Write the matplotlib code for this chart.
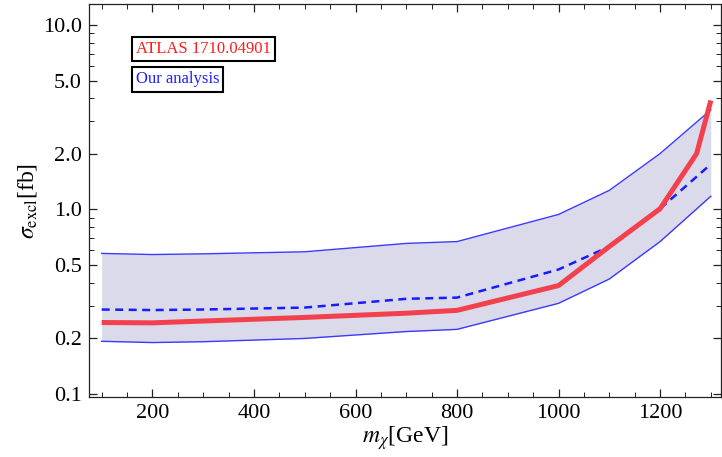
import matplotlib
matplotlib.use("Agg")
import matplotlib.pyplot as plt
from matplotlib.ticker import FixedLocator, LogLocator, MultipleLocator, NullFormatter

plt.rcParams['font.family'] = ['Liberation Serif', 'DejaVu Serif']
plt.rcParams['mathtext.fontset'] = 'stix'

# band (our analysis): masses, lower / expected / upper limit
mass = [100, 200, 300, 500, 700, 800, 1000, 1100, 1200, 1300]
band_low = [0.193, 0.190, 0.192, 0.200, 0.218, 0.224, 0.310, 0.420, 0.670, 1.18]
expected = [0.287, 0.285, 0.287, 0.294, 0.328, 0.333, 0.473, 0.630, 1.01, 1.76]
band_high = [0.578, 0.570, 0.575, 0.590, 0.655, 0.670, 0.940, 1.27, 2.01, 3.47]

# ATLAS 1710.04901 limit
atlas_mass = [100, 200, 500, 700, 800, 1000, 1100, 1200, 1272, 1300]
atlas_limit = [0.244, 0.243, 0.260, 0.274, 0.284, 0.387, 0.630, 1.01, 2.01, 3.9]

yticks = [0.1, 0.2, 0.5, 1.0, 2.0, 5.0, 10.0]
ytick_labels = ["0.1", "0.2", "0.5", "1.0", "2.0", "5.0", "10.0"]

fig = plt.figure(figsize=(7.22, 4.57), dpi=100)
ax = fig.add_axes([89/722, 1-397/457, 632/722, 393/457])

ax.fill_between(mass, band_low, band_high, color='#dadaea', lw=0)
ax.plot(mass, band_low, color='#3a3aff', lw=1.0)
ax.plot(mass, band_high, color='#3a3aff', lw=1.0)
ax.plot(mass, expected, color='#1a1aff', lw=1.8, ls=(0, (3.2, 2.2)))
ax.plot(atlas_mass, atlas_limit, color='#f2404c', lw=3.6, solid_capstyle='butt')

ax.set_yscale('log')
ax.set_xlim(75, 1320)
ax.set_ylim(0.0963, 13.0)

ax.yaxis.set_major_locator(FixedLocator(yticks))
ax.set_yticklabels(ytick_labels)
ax.yaxis.set_minor_locator(LogLocator(base=10, subs=[3, 4, 6, 7, 8, 9]))
ax.yaxis.set_minor_formatter(NullFormatter())
ax.xaxis.set_major_locator(MultipleLocator(200))
ax.xaxis.set_minor_locator(MultipleLocator(50))

ax.tick_params(which='both', direction='in', top=True, right=True, labelsize=16, pad=5, color='#222222')
ax.tick_params(which='major', length=6, width=0.9)
ax.tick_params(which='minor', length=3.5, width=0.7)
for s in ax.spines.values():
    s.set_linewidth(0.9)
    s.set_color('#222222')

ax.set_xlabel(r'$m_{\chi}$[GeV]', fontsize=17, labelpad=1)
ax.set_ylabel(r'$\sigma_{\mathrm{excl}}$[fb]', fontsize=17, labelpad=3)

ax.text(0.074, 0.885, 'ATLAS 1710.04901', transform=ax.transAxes, color='#ff1a1a', fontsize=12,
        va='center', ha='left', bbox=dict(boxstyle='square,pad=0.25', fc='white', ec='black', lw=1.5))
ax.text(0.074, 0.808, 'Our analysis', transform=ax.transAxes, color='#2020ff', fontsize=12,
        va='center', ha='left', bbox=dict(boxstyle='square,pad=0.25', fc='white', ec='black', lw=1.5))

fig.savefig('out.png', dpi=100)
